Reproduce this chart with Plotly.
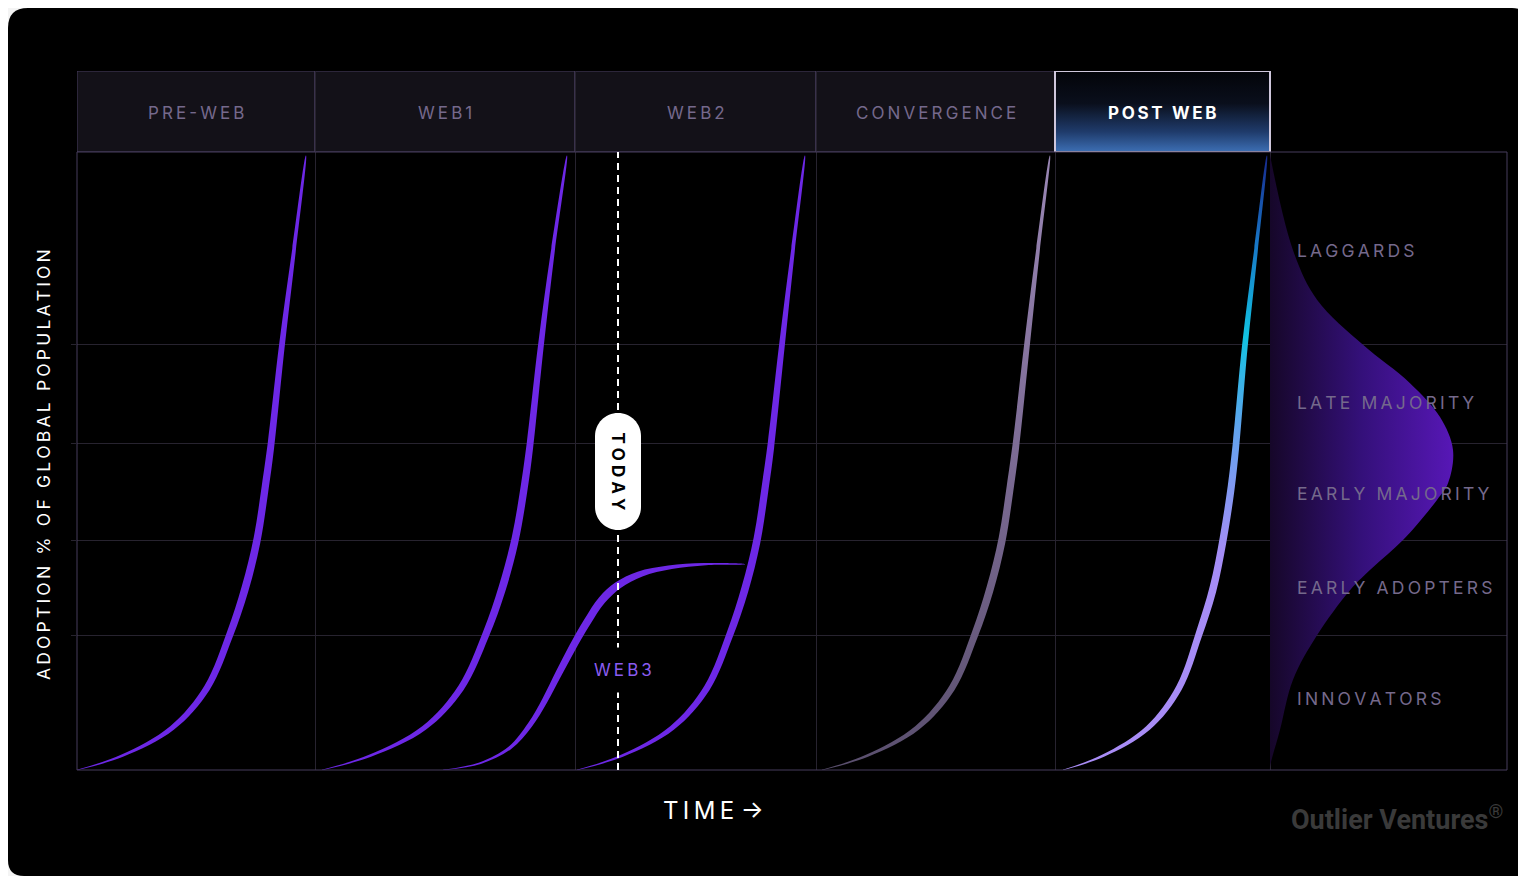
import plotly.graph_objects as go

# eras along the time axis (x in time units, 0..1430)
ERA_LABELS = ["PRE-WEB", "WEB1", "WEB2", "CONVERGENCE", "POST WEB"]
ERA_EDGES = [0, 238, 498, 739, 978, 1193, 1430]
GRID_LEVELS = [21.8, 37.2, 52.8, 68.8]

# adoption curves (adoption % of global population)
CURVE_LEVELS = [0, 2.3, 6.8, 13.3, 22.0, 29.3, 37.2, 45.5, 52.6, 68.8, 84.1, 99.4]
PREWEB_X = [0, 45, 95, 130, 153, 168, 180, 188, 194, 205, 217, 229]
WEB1_X = [245, 293, 347, 384, 409, 425, 438, 447, 453, 464, 476, 490]
WEB2_X = [500, 545, 595, 630, 653, 668, 680, 688, 694, 705, 716, 728]
CONVERGENCE_X = [745, 790, 840, 875, 898, 913, 925, 933, 939, 950, 961, 973]
POSTWEB_X = [986, 1026, 1071, 1102, 1122, 1136, 1146, 1154, 1159, 1168, 1179, 1190]

WEB3_X = [366, 403, 433, 453, 468, 481, 495, 510, 525, 541, 563, 593, 628, 668]
WEB3_Y = [0, 1.1, 3.6, 7.3, 11.3, 15.4, 19.7, 23.9, 27.5, 29.9, 31.7, 32.8, 33.3, 33.3]

# diffusion of innovation bell (right panel)
BELL_X = [1193, 1216, 1240, 1286, 1333, 1363, 1376, 1371, 1360, 1326, 1296, 1273,
          1240, 1216, 1203, 1193, 1193]
BELL_Y = [99.5, 84.1, 76.1, 68.8, 62.6, 57.1, 51.8, 46.4, 43.7, 37.2, 32.8, 29.1,
          21.8, 14.6, 6.5, 0.5, 0]
SEGMENT_LABELS = ["LAGGARDS", "LATE MAJORITY", "EARLY MAJORITY", "EARLY ADOPTERS", "INNOVATORS"]
SEGMENT_LEVELS = [84.1, 59.5, 44.8, 29.6, 11.5]

TODAY_X = 541
TODAY_LEVEL = 48.3
WEB3_LABEL_X = 546
WEB3_LABEL_Y = 16.2

# ---- styling / layout constants (page pixels; the page body adds an 8px margin)
BODY = 8
W, H = 1518, 868
ML, MR, MT, MB = 69, 19, 63, 106
PLOT_W = W - ML - MR
PLOT_H = H - MT - MB
MAIN_H = 618
PX_PER_PCT = MAIN_H / 100
SPLIT = MAIN_H / PLOT_H

PURPLE = "#6d28e6"
GRID = "#27232f"
EDGE = "#463d5c"
LABEL = "#75698c"
FONT = "Inter, Open Sans, sans-serif"

TAPER = [0.15, 1.0, 1.8, 2.4, 2.8, 3.1, 3.2, 3.2, 3.1, 2.6, 1.7, 0.15]
TAPER_WEB3 = [0.15, 0.7, 1.2, 1.8, 2.2, 2.5, 2.7, 2.8, 2.8, 2.7, 2.4, 1.8, 1.1, 0.15]


def spaced(s, sep="\u2009"):
    return sep.join(s)


def ribbon(xs, ys, half):
    # tapered stroke: upper-left edge then lower-right edge back
    up_x = [x - a for x, a in zip(xs, half)]
    up_y = [y + a / PX_PER_PCT for y, a in zip(ys, half)]
    lo_x = [x + a for x, a in zip(xs, half)]
    lo_y = [y - a / PX_PER_PCT for y, a in zip(ys, half)]
    return up_x + lo_x[::-1], up_y + lo_y[::-1]


def px(x):
    return (x - BODY - ML) / PLOT_W


def py(y):
    return (H - MB - (y - BODY)) / PLOT_H


fig = go.Figure()

# bell curve
fig.add_trace(go.Scatter(
    x=BELL_X, y=BELL_Y, mode="lines", fill="toself",
    line=dict(width=0, shape="spline"),
    fillgradient=dict(type="horizontal", start=ERA_EDGES[5], stop=max(BELL_X),
                      colorscale=[[0, "#160729"], [0.5, "#34107a"], [1, "#5717b6"]]),
    hoverinfo="skip", showlegend=False))

# purple adoption curves
for xs in [PREWEB_X, WEB1_X, WEB2_X]:
    rx, ry = ribbon(xs, CURVE_LEVELS, TAPER)
    fig.add_trace(go.Scatter(x=rx, y=ry, mode="lines", fill="toself", fillcolor=PURPLE,
                             line=dict(width=0, shape="spline"),
                             hoverinfo="skip", showlegend=False))

rx, ry = ribbon(WEB3_X, WEB3_Y, TAPER_WEB3)
fig.add_trace(go.Scatter(x=rx, y=ry, mode="lines", fill="toself", fillcolor=PURPLE,
                         line=dict(width=0, shape="spline"),
                         hoverinfo="skip", showlegend=False))

rx, ry = ribbon(CONVERGENCE_X, CURVE_LEVELS, TAPER)
fig.add_trace(go.Scatter(
    x=rx, y=ry, mode="lines", fill="toself", line=dict(width=0, shape="spline"),
    fillgradient=dict(type="vertical", start=0, stop=100,
                      colorscale=[[0, "#5a4f6e"], [0.5, "#7c6b94"], [1, "#9a87b5"]]),
    hoverinfo="skip", showlegend=False))

rx, ry = ribbon(POSTWEB_X, CURVE_LEVELS, TAPER)
fig.add_trace(go.Scatter(
    x=rx, y=ry, mode="lines", fill="toself", line=dict(width=0, shape="spline"),
    fillgradient=dict(type="vertical", start=0, stop=100,
                      colorscale=[[0, "#a98cf6"], [0.35, "#a58df6"], [0.55, "#62a3ee"],
                                  [0.7, "#12c3e2"], [0.85, "#1877c6"], [1, "#17268a"]]),
    hoverinfo="skip", showlegend=False))

# POST WEB header glow
fig.add_trace(go.Scatter(
    x=[ERA_EDGES[4], ERA_EDGES[5], ERA_EDGES[5], ERA_EDGES[4], ERA_EDGES[4]],
    y=[0, 0, 1, 1, 0], yaxis="y2", mode="lines", fill="toself", line=dict(width=0),
    fillgradient=dict(type="vertical", start=0, stop=1,
                      colorscale=[[0, "#3d6fb4"], [0.25, "#1f3b6b"], [0.6, "#0a0f1c"], [1, "#030409"]]),
    hoverinfo="skip", showlegend=False))

shapes = []

# black rounded card behind everything
x0, x1, y0, y1 = 8, 1526, 8, 876
r1, r2, r3 = 20, 14, 16
card = (f"M {px(x0)},{py(y0 + r1)} Q {px(x0)},{py(y0)} {px(x0 + r1)},{py(y0)} "
        f"L {px(x1 - r2)},{py(y0)} Q {px(x1)},{py(y0)} {px(x1)},{py(y0 + r2)} "
        f"L {px(x1)},{py(y1)} L {px(x0 + r3)},{py(y1)} "
        f"Q {px(x0)},{py(y1)} {px(x0)},{py(y1 - r3)} Z")
shapes.append(dict(type="path", path=card, xref="paper", yref="paper",
                   fillcolor="#000000", line=dict(width=0), layer="below"))

# header cells
for i in range(len(ERA_LABELS)):
    last = i == len(ERA_LABELS) - 1
    shapes.append(dict(type="rect", xref="x", yref="y2",
                       x0=ERA_EDGES[i], x1=ERA_EDGES[i + 1], y0=0, y1=1,
                       fillcolor="rgba(0,0,0,0)" if last else "#131118",
                       line=dict(color="#cfc7dc" if last else EDGE, width=2 if last else 1),
                       layer="above" if last else "below"))

# plot frame
shapes.append(dict(type="rect", xref="paper", yref="paper", x0=0, x1=1, y0=0, y1=SPLIT,
                   line=dict(color=EDGE, width=1), fillcolor="rgba(0,0,0,0)", layer="above"))

# today line and pill
shapes.append(dict(type="line", xref="x", yref="y", x0=TODAY_X, x1=TODAY_X, y0=0, y1=100,
                   line=dict(color="white", width=2, dash="7px,5px"), layer="above"))
w, h, k = 23, 35.5, 12.7
pill = (f"M {-w},{-h} L {-w},{h} C {-w},{h + k} {-k},{h + w} 0,{h + w} "
        f"C {k},{h + w} {w},{h + k} {w},{h} L {w},{-h} "
        f"C {w},{-h - k} {k},{-h - w} 0,{-h - w} C {-k},{-h - w} {-w},{-h - k} {-w},{-h} Z")
shapes.append(dict(type="path", path=pill, xref="x", yref="y",
                   xsizemode="pixel", ysizemode="pixel", xanchor=TODAY_X, yanchor=TODAY_LEVEL,
                   fillcolor="white", line=dict(width=0), layer="above"))

annotations = []
for i, lab in enumerate(ERA_LABELS):
    last = i == len(ERA_LABELS) - 1
    annotations.append(dict(
        x=(ERA_EDGES[i] + ERA_EDGES[i + 1]) / 2, y=0.48, xref="x", yref="y2",
        xanchor="center", yanchor="middle",
        text=f"<b>{spaced(lab)}</b>" if last else spaced(lab), showarrow=False,
        font=dict(family=FONT, size=17, color="white" if last else LABEL)))

for lab, lev in zip(SEGMENT_LABELS, SEGMENT_LEVELS):
    annotations.append(dict(x=ERA_EDGES[5] + 25, y=lev, xref="x", yref="y",
                            text=spaced(lab), showarrow=False, xanchor="left", yanchor="middle",
                            font=dict(family=FONT, size=17.5, color=LABEL)))

annotations.append(dict(x=TODAY_X, y=TODAY_LEVEL, xref="x", yref="y",
                        text=f"<b>{spaced('TODAY', chr(0x2009) + chr(0x200a))}</b>",
                        textangle=90, showarrow=False, xanchor="center", yanchor="middle",
                        font=dict(family=FONT, size=17, color="#000000")))
annotations.append(dict(x=WEB3_LABEL_X, y=WEB3_LABEL_Y, xref="x", yref="y", text=spaced("WEB3"),
                        showarrow=False, bgcolor="#000000", borderpad=12,
                        xanchor="center", yanchor="middle",
                        font=dict(family=FONT, size=17, color="#8a5cf0")))

annotations.append(dict(x=px(43), y=py(465), xref="paper", yref="paper",
                        text=spaced("ADOPTION % OF GLOBAL POPULATION"), textangle=-90,
                        xanchor="center", yanchor="middle",
                        showarrow=False, font=dict(family=FONT, size=17.5, color="white")))
annotations.append(dict(x=px(713), y=py(810), xref="paper", yref="paper",
                        xanchor="center", yanchor="middle",
                        text=spaced("TIME") + " \u2192", showarrow=False,
                        font=dict(family=FONT, size=24, color="white")))
annotations.append(dict(x=px(1505), y=py(818), xref="paper", yref="paper",
                        xanchor="right", yanchor="middle",
                        text="<b>Outlier Ventures</b><sup>\u00ae</sup>", showarrow=False,
                        font=dict(family="Roboto, sans-serif", size=27, color="#3a3a3a")))

fig.update_layout(
    width=W, height=H,
    margin=dict(l=ML, r=MR, t=MT, b=MB),
    paper_bgcolor="#f4f4f4", plot_bgcolor="#000000",
    shapes=shapes, annotations=annotations, showlegend=False,
    xaxis=dict(range=[0, ERA_EDGES[-1]], tickvals=ERA_EDGES[1:-1], showgrid=True,
               gridcolor=GRID, gridwidth=1, showticklabels=False, zeroline=False,
               showline=False, ticks=""),
    yaxis=dict(domain=[0, SPLIT], range=[0, 100], tickvals=GRID_LEVELS, showgrid=True,
               gridcolor=GRID, ticks="outside", ticklen=5, tickcolor=GRID,
               showticklabels=False, zeroline=False, showline=False),
    yaxis2=dict(domain=[SPLIT, 1], range=[0, 1], anchor="x", showgrid=False,
                showticklabels=False, zeroline=False, showline=False),
)

fig.write_html("out.html")
